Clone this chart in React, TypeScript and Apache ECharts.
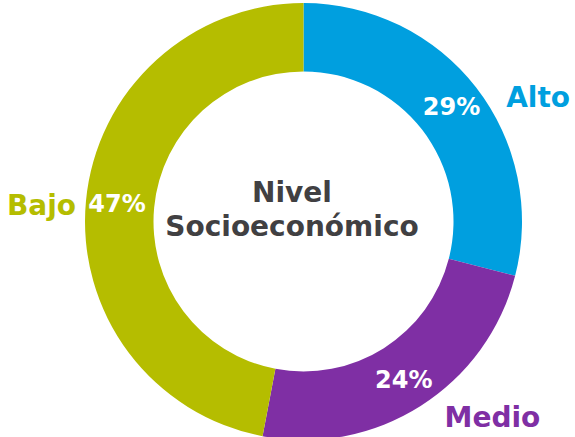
import React, { useEffect, useRef } from "react";
import * as echarts from "echarts";

const categories = ["Alto", "Medio", "Bajo"];
const shares = [29, 24, 47];
const colors = ["#009FDF", "#7F2FA4", "#B5BD00"];
const centerTitle = "Nivel\nSocioeconómico";

// label nudges for the outer category names (pixels)
const nameNudge = [
  { dx: 25, dy: 10 },
  { dx: 19, dy: 12 },
  { dx: -5, dy: 5 },
];

const FONT = "'DejaVu Sans', sans-serif";

export default function App() {
  const ref = useRef<HTMLDivElement>(null);
  useEffect(() => {
    if (!ref.current) return;
    const chart = echarts.init(ref.current, undefined, { renderer: "svg" });
    const data = categories.map((name, i) => ({
      name,
      value: shares[i],
      itemStyle: { color: colors[i] },
    }));
    chart.setOption({
      animation: false,
      graphic: [
        {
          type: "text",
          x: 292,
          y: 209,
          style: {
            text: centerTitle,
            fontFamily: FONT,
            fontWeight: "bold",
            fontSize: 28,
            lineHeight: 34,
            fill: "#414042",
            align: "center",
            verticalAlign: "middle",
          },
        },
      ],
      series: [
        {
          type: "pie",
          center: [303.5, 221.5],
          radius: [150, 218.5],
          startAngle: 90,
          clockwise: true,
          avoidLabelOverlap: false,
          silent: true,
          label: {
            show: true,
            position: "inside",
            formatter: "{c}%",
            color: "#ffffff",
            fontFamily: FONT,
            fontWeight: "bold",
            fontSize: 24,
          },
          labelLine: { show: false },
          data,
        },
        {
          type: "pie",
          center: [303.5, 221.5],
          radius: [150, 218.5],
          startAngle: 90,
          clockwise: true,
          avoidLabelOverlap: false,
          silent: true,
          itemStyle: { color: "rgba(0,0,0,0)" },
          label: {
            show: true,
            position: "outside",
            formatter: "{b}",
            fontFamily: FONT,
            fontWeight: "bold",
            fontSize: 28,
            distanceToLabelLine: 5,
          },
          labelLine: { show: false, length: 0, length2: 0 },
          labelLayout: (p: any) => nameNudge[p.dataIndex],
          data: categories.map((name, i) => ({
            name,
            value: shares[i],
            label: { color: colors[i] },
          })),
        },
      ],
    });
    return () => chart.dispose();
  }, []);
  return (
    <div
      ref={ref}
      style={{ position: "absolute", left: 0, top: 0, width: 575, height: 437 }}
    />
  );
}
